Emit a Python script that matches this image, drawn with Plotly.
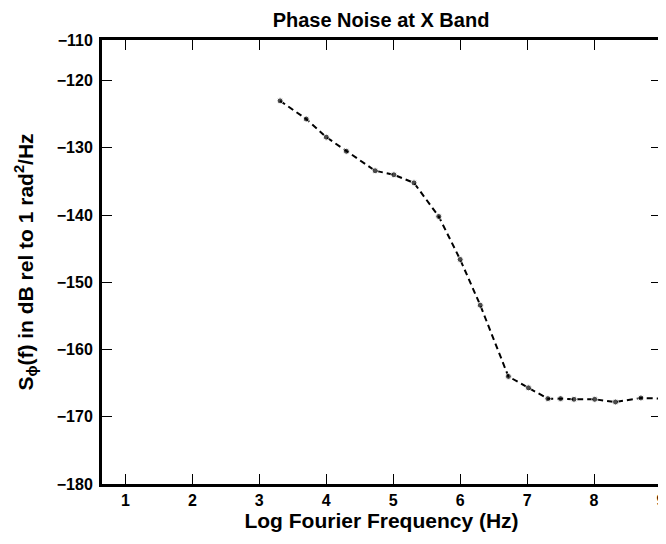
import plotly.graph_objects as go

# Data
log_freq = [3.31, 3.70, 4.00, 4.30, 4.73, 5.01, 5.31, 5.68, 6.00, 6.30,
            6.72, 7.02, 7.31, 7.50, 7.70, 8.01, 8.32, 8.70, 9.00]
phase_noise = [-123.0, -125.7, -128.4, -130.5, -133.4, -134.0, -135.2, -140.2, -146.6, -153.4,
               -164.0, -165.7, -167.3, -167.3, -167.4, -167.4, -167.8, -167.2, -167.3]
has_marker = [1] * 18 + [0]

x_tick_vals = [1, 2, 3, 4, 5, 6, 7, 8, 9]
x_tick_text = ["1", "2", "3", "4", "5", "6", "7", "8", "9"]
y_tick_vals = [-180, -170, -160, -150, -140, -130, -120, -113.95]
y_tick_text = ["\u2212180", "\u2212170", "\u2212160", "\u2212150", "\u2212140", "\u2212130", "\u2212120", "\u2212110"]

FONT = "Liberation Sans"

fig = go.Figure()
fig.add_trace(go.Scatter(
    x=log_freq, y=phase_noise,
    mode="lines+markers",
    line=dict(color="black", width=2, dash="6px,4px"),
    marker=dict(color="black", size=[6 * m for m in has_marker]),
    showlegend=False,
))

# the page adds an 8px body margin, so the figure is sized/offset to land on the reference pixels
fig.update_layout(
    width=658, height=536,
    margin=dict(l=94, r=5, t=32, b=60, autoexpand=False),
    plot_bgcolor="white", paper_bgcolor="white",
    font=dict(family=FONT, color="black", size=16),
    title=dict(text="<b>Phase Noise at X Band</b>", x=373 / 658, xanchor="center",
               y=1 - 12 / 536, yanchor="middle",
               font=dict(family=FONT, size=20, color="black")),
)
fig.update_xaxes(
    range=[0.65, 9.0], tickvals=x_tick_vals, ticktext=x_tick_text,
    ticks="inside", ticklen=10, tickwidth=1.3, tickcolor="black",
    showline=True, linecolor="black", linewidth=3, mirror="ticks",
    showgrid=False, zeroline=False, automargin=False,
    ticklabeloverflow="allow",
    tickfont=dict(family=FONT, size=16, color="black", weight="bold"),
    title=dict(text="<b>Log Fourier Frequency (Hz)</b>", standoff=5,
               font=dict(family=FONT, size=21, color="black")),
)
fig.update_yaxes(
    range=[-180, -113.95], tickvals=y_tick_vals, ticktext=y_tick_text,
    ticks="inside", ticklen=10, tickwidth=1.3, tickcolor="black",
    showline=True, linecolor="black", linewidth=3, mirror="ticks",
    showgrid=False, zeroline=False, automargin=False,
    ticklabelstandoff=3,
    tickfont=dict(family=FONT, size=16, color="black", weight="bold"),
    title=dict(text="<b>S<sub>\u03d5</sub>(f) in dB rel to 1 rad<sup>2</sup>/Hz</b>", standoff=18,
               font=dict(family=FONT, size=21, color="black")),
)

fig.write_html("out.html")
